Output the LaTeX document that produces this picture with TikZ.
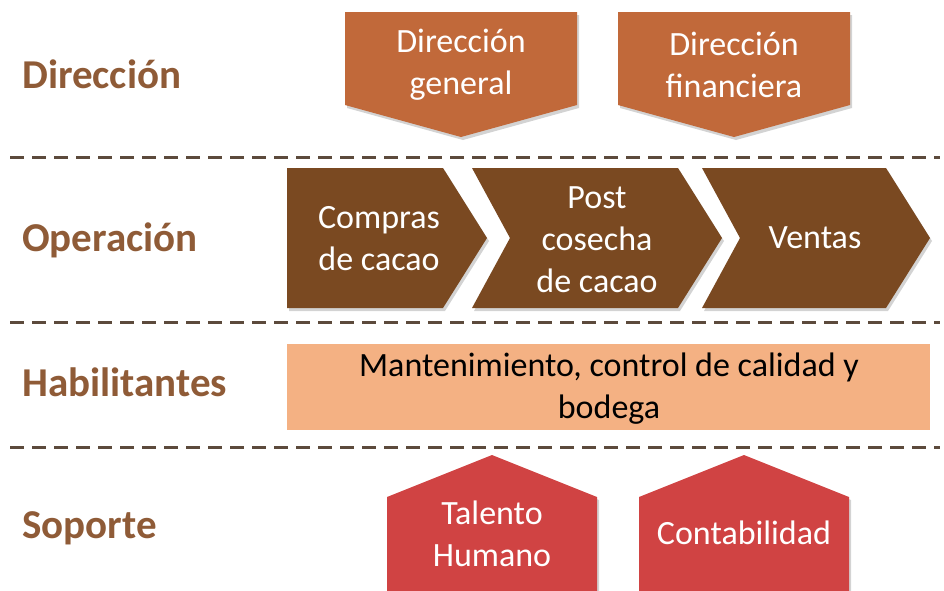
\documentclass[tikz,border=0pt]{standalone}
\usepackage{fontspec}
\setmainfont{Carlito}
\usepackage{xcolor}
\usepackage{tikz}
\usetikzlibrary{shadows}
\definecolor{dircol}{RGB}{193,105,58}
\definecolor{opcol}{RGB}{122,73,33}
\definecolor{habcol}{RGB}{244,177,131}
\definecolor{sopcol}{RGB}{208,67,67}
\definecolor{labcol}{RGB}{143,91,55}
\definecolor{dashcol}{RGB}{92,74,60}
\tikzstyle{rowlabel}=[text=labcol, font=\fontsize{41}{44}\selectfont\bfseries, anchor=base west, inner sep=0pt]
\tikzstyle{boxtext}=[text=white, font=\fontsize{34}{42}\selectfont, align=center, inner sep=0pt]
\tikzstyle{habtext}=[text=black, font=\fontsize{34}{42}\selectfont, align=center, inner sep=0pt]
\tikzstyle{boxfill}=[drop shadow={opacity=0.35, shadow xshift=2pt, shadow yshift=-3pt}]
\tikzstyle{rowline}=[dashcol, line width=3pt, dash pattern=on 14pt off 8pt]

\begin{document}
\begin{tikzpicture}[x=1pt, y=-1pt]
\useasboundingbox (0,0) rectangle (944,590);
\draw[rowline] (10,157) -- (940,157);
\draw[rowline] (10,322) -- (940,322);
\draw[rowline] (10,447) -- (940,447);

\node[rowlabel] (lbldir) at (22,88) {Dirección};
\node[rowlabel] (lblop) at (22,251) {Operación};
\node[rowlabel] (lblhab) at (22,396) {Habilitantes};
\node[rowlabel] (lblsop) at (22,538) {Soporte};

% Direccion
\fill[dircol, boxfill] (345,12) -- (577,12) -- (577,105) -- (461,137) -- (345,105) -- cycle;
\fill[dircol, boxfill] (618,12) -- (850,12) -- (850,105) -- (734,137) -- (618,105) -- cycle;
\node[boxtext] (dirgen) at (461,65) {Dirección\\general};
\node[boxtext] (dirfin) at (734,65) {Dirección\\financiera};

% Operacion
\fill[opcol, boxfill] (287,168) -- (443,168) -- (487,238) -- (443,308) -- (287,308) -- cycle;
\fill[opcol, boxfill] (472,168) -- (678,168) -- (722,238) -- (678,308) -- (472,308) -- (510,238) -- cycle;
\fill[opcol, boxfill] (702,168) -- (886,168) -- (930,238) -- (886,308) -- (702,308) -- (740,238) -- cycle;
\node[boxtext] (compras) at (379,239) {Compras\\de cacao};
\node[boxtext] (post) at (597,240) {Post\\cosecha\\de cacao};
\node[boxtext] (ventas) at (815,238) {Ventas};

% Habilitantes
\fill[habcol] (287,344) rectangle (930,430);
\node[habtext] (mant) at (609,389) {Mantenimiento, control de calidad y\\bodega};

% Soporte
\fill[sopcol, boxfill] (387,497) -- (492,455) -- (597,497) -- (597,592) -- (387,592) -- cycle;
\fill[sopcol, boxfill] (639,497) -- (744,455) -- (849,497) -- (849,592) -- (639,592) -- cycle;
\node[boxtext] (talento) at (492,534) {Talento\\Humano};
\node[boxtext] (conta) at (744,533) {Contabilidad};
\end{tikzpicture}
\end{document}
